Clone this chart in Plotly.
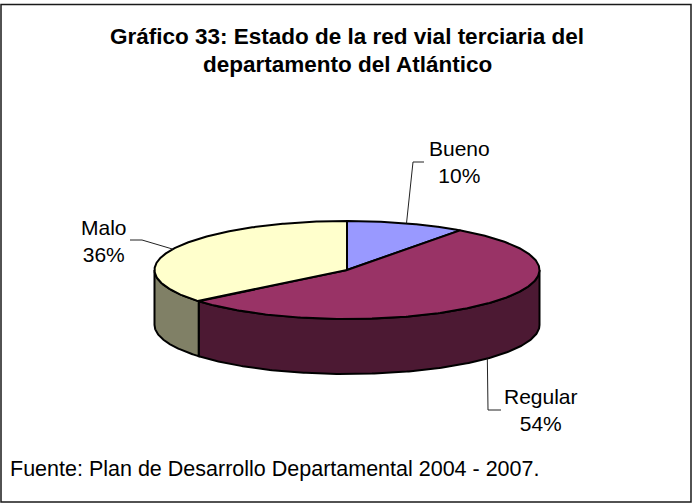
import numpy as np
import plotly.graph_objects as go

# --- data ---------------------------------------------------------------
categories = ["Bueno", "Regular", "Malo"]
shares = [10, 54, 36]  # percent of tertiary road network
top_colors = ["#9999FF", "#993366", "#FFFFCC"]
side_colors = ["#4C4C80", "#4C1933", "#808066"]

title_lines = ["Gráfico 33: Estado de la red vial terciaria del",
               "departamento del Atlántico"]
source_text = "Fuente: Plan de Desarrollo Departamental 2004 - 2007."

# --- layout of the pseudo-3D pie (pixel space) --------------------------
W, H = 693, 504
CX, CY = 347.0, 270.0     # centre of the top face
RX, RY = 192.5, 49.0      # ellipse radii of the top face
DEPTH = 55.0              # thickness of the disc
FONT = "Liberation Sans, Arial, sans-serif"

# label block centres and leader-line elbows
label_pos = {
    "Bueno": dict(text=(459, 162), elbow=[(413, 162), (424, 162)]),
    "Regular": dict(text=(541, 410), elbow=[(488, 410), (501, 410)]),
    "Malo": dict(text=(104, 241), elbow=[(142, 240), (130, 240)]),
}
title_y = [36, 64]


def ell(theta, drop=0.0):
    """Point on the top ellipse; theta in degrees clockwise from 12 o'clock."""
    t = np.radians(theta)
    return CX + RX * np.sin(t), CY - RY * np.cos(t) + drop


fracs = np.array(shares, dtype=float) / sum(shares)
bounds = np.concatenate([[0.0], np.cumsum(fracs)]) * 360.0

fig = go.Figure()

# side walls (only the front half of the disc is visible: 90..270 deg)
for i in range(len(categories)):
    a0, a1 = max(bounds[i], 90.0), min(bounds[i + 1], 270.0)
    if a1 <= a0:
        continue
    th = np.linspace(a0, a1, 200)
    xt, yt = ell(th)
    xb, yb = ell(th[::-1], DEPTH)
    xs = np.concatenate([xt, xb, xt[:1]])
    ys = np.concatenate([yt, yb, yt[:1]])
    fig.add_trace(go.Scatter(
        x=xs, y=ys, mode="lines", fill="toself",
        fillcolor=side_colors[i], line=dict(color="black", width=2),
        hoverinfo="skip", showlegend=False))

# top faces
for i in range(len(categories)):
    th = np.linspace(bounds[i], bounds[i + 1], 300)
    xt, yt = ell(th)
    xs = np.concatenate([[CX], xt, [CX]])
    ys = np.concatenate([[CY], yt, [CY]])
    fig.add_trace(go.Scatter(
        x=xs, y=ys, mode="lines", fill="toself",
        fillcolor=top_colors[i], line=dict(color="black", width=2),
        hoverinfo="skip", showlegend=False))

# leader lines and labels
annotations = []
for i, name in enumerate(categories):
    mid = (bounds[i] + bounds[i + 1]) / 2.0
    front = np.cos(np.radians(mid)) < 0
    sx, sy = ell(mid, DEPTH if front else 0.0)
    pts = [(sx, sy)] + label_pos[name]["elbow"]
    fig.add_trace(go.Scatter(
        x=[p[0] for p in pts], y=[p[1] for p in pts], mode="lines",
        line=dict(color="#222222", width=1), hoverinfo="skip",
        showlegend=False))
    tx, ty = label_pos[name]["text"]
    annotations.append(dict(
        x=tx, y=ty, xref="x", yref="y", showarrow=False,
        text=f"{name}<br>{shares[i]}%", align="center",
        xanchor="center", yanchor="middle",
        font=dict(family=FONT, size=21, color="black")))

for line, y in zip(title_lines, title_y):
    annotations.append(dict(
        x=347, y=y, xref="x", yref="y", showarrow=False, text=f"<b>{line}</b>",
        align="center", xanchor="center", yanchor="middle",
        font=dict(family=FONT, size=22.5, color="black")))
annotations.append(dict(
    x=8, y=469, xref="x", yref="y", showarrow=False, text=source_text,
    align="left", xanchor="left", yanchor="middle",
    font=dict(family=FONT, size=21.5, color="black")))

fig.update_layout(
    width=W, height=H, autosize=False,
    margin=dict(l=0, r=0, t=0, b=0),
    paper_bgcolor="white", plot_bgcolor="white",
    xaxis=dict(range=[0, W], visible=False, fixedrange=True),
    yaxis=dict(range=[H, 0], visible=False, fixedrange=True),
    annotations=annotations,
    shapes=[dict(type="rect", xref="x", yref="y", x0=1, y0=4.5, x1=691, y1=502,
                 line=dict(color="#1a1a1a", width=1.5), layer="above")],
)

fig.write_html("out.html")
